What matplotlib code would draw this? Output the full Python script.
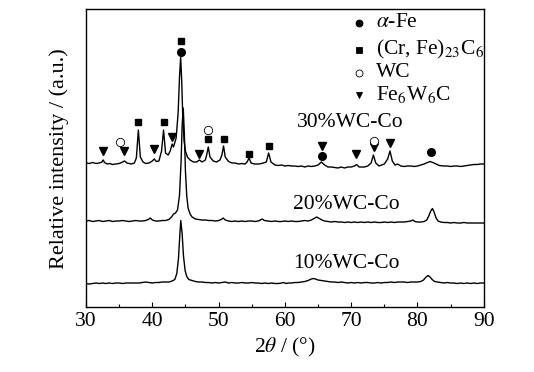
import matplotlib
matplotlib.use("Agg")
import matplotlib.pyplot as plt
from matplotlib.ticker import MultipleLocator

plt.rcParams['font.family'] = ['Liberation Serif', 'DejaVu Serif']
plt.rcParams['mathtext.fontset'] = 'stix'

# 2theta (deg) and intensity above each trace's own baseline (a.u.)
x30 = [30, 30.5, 31, 31.5, 32, 32.4, 32.6, 32.8, 33.2, 33.6, 34, 34.5, 35, 35.4, 35.8, 36.2,
       36.8, 37.3, 37.6, 37.9, 38.2, 38.6, 39, 39.5, 40, 40.3, 40.6, 41, 41.4, 41.7, 42.0, 42.4,
       42.7, 43.0, 43.2, 43.6, 43.9, 44.1, 44.28, 44.45, 44.6, 44.8, 45.0, 45.3, 45.7, 46.2,
       46.7, 47.1, 47.5, 48.0, 48.2, 48.45, 48.7, 49.2, 49.7, 50.2, 50.5, 50.75, 51.0, 51.5,
       52, 52.5, 53, 53.5, 54, 54.3, 54.6, 54.9, 55.4, 56, 56.5, 57.2, 57.55, 57.9, 58.5, 59,
       59.5, 60, 60.5, 61, 61.5, 62, 62.5, 63, 63.5, 64, 64.5, 65.0, 65.5, 66.0, 66.5, 67,
       67.5, 68, 68.5, 69, 69.5, 70, 70.5, 70.8, 71.2, 71.7, 72, 72.5, 73.0, 73.35, 73.7, 74.2,
       74.6, 75.0, 75.5, 75.85, 76.2, 76.6, 77, 77.5, 78, 78.5, 79, 79.5, 80, 80.5, 81, 81.5,
       81.9, 82.3, 82.8, 83.3, 84, 84.5, 85, 85.5, 86, 86.5, 87, 87.5, 88, 88.5, 89, 89.5, 90]
i30 = [0, -0.5, 0.5, -0.5, 0, 1, 3, 0.5, -1, -0.5, -1.5, -1, -0.5, 0.5, 2, 0,
       -1, 0, 5, 33, 6, 1, -0.5, 0, 2, 4, 1.5, 2, 12, 33, 10, 8,
       12, 19, 16, 25, 50, 85, 106, 80, 45, 22, 12, 6, 3, 1,
       1, 3, 1, 3, 8, 16, 6, 2, 1, 3, 8, 17, 6, 1.5,
       0, 0, -1, -0.5, -1, 1, 5, 0, -1, -1, -0.5, 1, 10, 1, -2, -2.5,
       -2, -3, -2.5, -3, -3, -3.5, -3, -4, -3, -3.5, -3, -2, 1, -2, -4, -4,
       -4.5, -5, -4, -5, -4, -4, -3, -1.5, -4, -4, -4, -3, 0, 8, 0, -3,
       -2, -1, 4, 12, 2, -2, -1, -3, -3.5, -3, -3, -3.5, -3, -2, -1, 0.5,
       1.5, 0.5, -1, -2.5, -3, -3, -3.5, -3, -3, -3.5, -3, -2.5, -2, -1.5, -1.5, -1, -1]

x20 = [30, 30.5, 31, 31.5, 32, 32.5, 33, 33.5, 34, 34.5, 35, 35.5, 36, 36.5, 37, 37.5, 38,
       38.5, 39, 39.4, 39.7, 40, 40.5, 41, 41.5, 42, 42.5, 42.9, 43.2, 43.5, 43.8, 44.1, 44.35,
       44.5, 44.67, 44.85, 45.0, 45.2, 45.4, 45.7, 46.0, 46.5, 47, 47.5, 48, 48.5, 49, 49.5,
       50, 50.4, 50.7, 51, 51.5, 52, 52.5, 53, 53.5, 54, 54.5, 55, 55.5, 56, 56.3, 56.6, 56.9,
       57.5, 58, 58.5, 59, 59.5, 60, 60.5, 61, 61.5, 62, 62.5, 63, 63.5, 64, 64.4, 64.8, 65.2,
       65.6, 66, 66.5, 67, 67.5, 68, 68.5, 69, 69.5, 70, 70.5, 71, 71.5, 72, 72.5, 73, 73.5,
       74, 74.5, 75, 75.5, 76, 76.5, 77, 77.5, 78, 78.5, 79, 79.3, 79.6, 80, 80.5, 81, 81.4,
       81.7, 82.0, 82.25, 82.5, 82.8, 83.1, 83.5, 84, 84.5, 85, 85.5, 86, 86.5, 87, 87.5, 88,
       88.5, 89, 89.5, 90]
i20 = [0, 0.5, -0.5, 0, 0.5, -0.5, 0, 0.5, -0.5, 0, 0, 0.5, 0, -0.5, 0, 0.5, 0,
       0, 0.5, 1.5, 3, 1, 0, 0, 0.5, 0.5, 1.5, 4, 7, 8, 11, 25, 60,
       95, 113, 85, 50, 25, 13, 7, 4, 2, 1.5, 1, 1, 0.5, 0.5, 0,
       0.5, 1.5, 3, 1, 0, -0.5, 0, -0.5, 0, -0.5, 0, 0, -0.5, 0, 1, 2, 0.5,
       0, -0.5, 0, -0.5, -0.5, 0, -0.5, 0, -0.5, -0.5, 0, 0.5, 0, 1, 2.5, 4, 2.5,
       1, 0, -0.5, -1, -0.5, -1, -1, -1.5, -1, -1.5, -1, -1.5, -1, -1.5, -1, -1.5, -1,
       -1.5, -1.5, -1, -1.5, -1, -1.5, -1, -1, -1, -0.5, 0, 1, -0.5, -1, -1, -0.5, 1,
       5, 10, 12.5, 9, 3, 0, -1, -1.5, -1.5, -2, -1.5, -2, -2, -1.5, -2, -2,
       -2, -2, -2, -2]

x10 = [30, 30.5, 31, 31.5, 32, 32.5, 33, 33.5, 34, 34.5, 35, 35.5, 36, 36.5, 37, 37.5, 38,
       38.5, 39, 39.5, 40, 40.5, 41, 41.5, 42, 42.5, 43, 43.4, 43.7, 43.95, 44.15, 44.3, 44.5,
       44.7, 44.95, 45.2, 45.5, 46, 46.5, 47, 47.5, 48, 48.5, 49, 49.5, 50, 50.5, 51, 51.5,
       52, 52.5, 53, 53.5, 54, 54.5, 55, 55.5, 56, 56.5, 57, 57.5, 58, 58.5, 59, 59.5, 59.8,
       60.2, 60.5, 61, 61.5, 62, 62.5, 63, 63.5, 64, 64.3, 64.6, 65, 65.5, 66, 66.5, 67, 67.5,
       68, 68.5, 69, 69.5, 70, 70.5, 71, 71.5, 72, 72.5, 73, 73.5, 74, 74.5, 75, 75.5, 76,
       76.5, 77, 77.5, 78, 78.5, 79, 79.5, 80, 80.5, 80.9, 81.3, 81.6, 81.9, 82.2, 82.6, 83,
       83.5, 84, 84.5, 85, 85.5, 86, 86.5, 87, 87.5, 88, 88.5, 89, 89.5, 90]
i10 = [0, -0.5, 0, 0.5, 0, 0.5, 0, 0.5, 0, 0.5, 0.5, 0, 0.5, 0.5, 0.5, 0.5, 0.5,
       1, 1.5, 1, 0.5, 1, 1, 1.5, 1.5, 1.5, 2.5, 4, 10, 25, 48, 63, 50,
       28, 13, 7, 4, 3, 2, 1.5, 1.5, 1, 1, 0.5, 1, 0.5, 1, 1.5, 0.5,
       1, 0.5, 0.5, 1, 0.5, 0.5, 1, 0.5, 0.5, 0, 0.5, 0, 0.5, 0, 0, 0.5, 1,
       0, 0.5, 0.5, 1, 1, 1.5, 2, 3, 4.5, 5, 4.5, 3.5, 3, 2.5, 2, 1.5, 1.5,
       1, 1.5, 1, 0.5, 1, 0.5, 1, 0.5, 1, 1, 0.5, 0.5, 1, 0.5, 1, 1, 1.5,
       1, 1.5, 1.5, 1.5, 1, 1.5, 1.5, 1.5, 2, 3.5, 6.5, 8, 6.5, 4, 2, 1.5,
       1, 0.5, 1, 0.5, 0.5, 0, 0.5, 0, 0.5, 0, 0.5, 0, 0.5, 0.5]

offsets = [144, 86, 23.5]
names = ["30%WC-Co", "20%WC-Co", "10%WC-Co"]
name_pos = [(61.75, 184), (61.2, 103), (61.3, 44)]

# phase markers (2theta, plotted height)
tri_x = [32.6, 35.7, 40.25, 43.0, 47.1, 65.6, 70.8, 73.5, 75.9]
tri_y = [156.3, 156, 157.7, 170, 152.7, 161, 152.7, 159.7, 164.3]
sq_x = [37.9, 41.75, 44.28, 48.45, 50.8, 54.6, 57.6]
sq_y = [185.3, 185.3, 265.7, 168, 168, 152.7, 161.3]
fc_x = [44.28, 65.6, 82.0]
fc_y = [254.7, 151, 154.7]
oc_x = [35.2, 48.45, 73.4]
oc_y = [164.7, 177, 166]

FS = 15.5

fig = plt.figure(figsize=(5.34, 3.72), dpi=100)
ax = fig.add_axes([0.161, 0.1747, 0.745, 0.7998])

for xs, ys, off in zip([x30, x20, x10], [i30, i20, i10], offsets):
    ax.plot(xs, [v + off for v in ys], color='black', lw=1.0)

for (tx, ty), nm in zip(name_pos, names):
    ax.text(tx, ty, nm, fontsize=FS, ha='left', va='center')

ax.plot(tri_x, tri_y, 'v', color='black', ms=5.5, ls='none')
ax.plot(sq_x, sq_y, 's', color='black', ms=5, ls='none')
ax.plot(fc_x, fc_y, 'o', color='black', ms=5.5, ls='none')
ax.plot(oc_x, oc_y, 'o', mfc='white', mec='black', mew=0.6, ms=6, ls='none')

# legend
leg_sym = [('o', 'black', 5), ('s', 'black', 4.5), ('o', 'white', 5), ('v', 'black', 5)]
leg_txt = [r'$\alpha$-Fe', r'(Cr, Fe)$_{23}$C$_6$', 'WC', r'Fe$_6$W$_6$C']
leg_y = [0.956, 0.864, 0.788, 0.713]
for (mk, fc, ms), t, yy in zip(leg_sym, leg_txt, leg_y):
    ax.plot([0.686], [yy], mk, mfc=fc, mec='black', mew=0.6, ms=ms, transform=ax.transAxes)
    ax.text(0.729, yy, t, fontsize=FS, ha='left', va='center', transform=ax.transAxes)

ax.set_xlim(30, 90)
ax.set_ylim(0, 297.5)
ax.xaxis.set_major_locator(MultipleLocator(10))
ax.xaxis.set_minor_locator(MultipleLocator(5))
ax.tick_params(axis='x', which='major', direction='in', length=3.6, width=0.8,
               labelsize=FS, pad=3.5)
ax.tick_params(axis='x', which='minor', direction='in', length=2.4, width=0.8)
ax.set_yticks([])
for s in ax.spines.values():
    s.set_linewidth(1.0)

ax.set_xlabel(r'2$\theta$ / (°)', fontsize=FS, labelpad=4)
ax.set_ylabel('Relative intensity / (a.u.)', fontsize=16, labelpad=12)

fig.savefig('out.png', dpi=100)
